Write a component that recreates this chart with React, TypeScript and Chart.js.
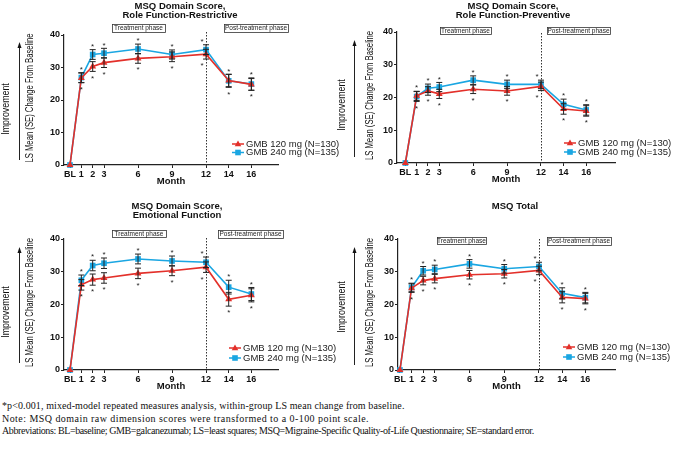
import React, { useEffect, useRef } from 'react';
import { Chart, registerables } from 'chart.js';
Chart.register(...registerables);

// ---------- data ----------
const months = [0, 1, 2, 3, 6, 9, 12, 14, 16];
const seriesNames = ['GMB 120 mg (N=130)', 'GMB 240 mg (N=135)'];
const yAxisTitle = 'LS Mean (SE) Change From Baseline';
const xAxisTitle = 'Month';
const improvementLabel = 'Improvement';
const phaseLabels = ['Treatment phase', 'Post-treatment phase'];

const rfrTitle = ['MSQ Domain Score,', 'Role Function-Restrictive'];
const rfr120 = [0, 26.8, 30.3, 31.5, 32.8, 33.3, 34.1, 26.0, 24.8];
const rfr120SE = [0, 1.5, 1.5, 1.5, 1.5, 1.5, 1.5, 1.9, 1.8];
const rfr240 = [0, 26.9, 34.0, 34.4, 35.7, 34.0, 35.5, 25.9, 24.9];
const rfr240SE = [0, 1.5, 1.5, 1.5, 1.5, 1.4, 1.5, 2.0, 1.9];

const rfpTitle = ['MSQ Domain Score,', 'Role Function-Preventive'];
const rfp120 = [0, 20.5, 22.0, 21.1, 22.5, 22.0, 23.4, 16.5, 15.9];
const rfp120SE = [0, 1.4, 1.3, 1.4, 1.3, 1.3, 1.3, 1.6, 1.6];
const rfp240 = [0, 20.3, 22.8, 23.2, 25.3, 24.0, 24.0, 17.9, 16.2];
const rfp240SE = [0, 1.5, 1.3, 1.4, 1.3, 1.3, 1.3, 1.6, 1.6];

const efTitle = ['MSQ Domain Score,', 'Emotional Function'];
const ef120 = [0, 26.0, 27.6, 28.1, 29.5, 30.3, 31.4, 21.6, 22.8];
const ef120SE = [0, 1.6, 1.7, 1.6, 1.6, 1.5, 1.6, 2.1, 2.0];
const ef240 = [0, 27.4, 31.9, 32.6, 33.9, 33.3, 32.9, 25.3, 23.2];
const ef240SE = [0, 1.6, 1.6, 1.6, 1.5, 1.5, 1.6, 2.1, 2.0];

const totTitle = ['MSQ Total'];
const tot120 = [0, 25.0, 27.3, 27.9, 29.1, 29.4, 30.4, 22.2, 21.8];
const tot120SE = [0, 1.3, 1.3, 1.3, 1.3, 1.3, 1.3, 1.7, 1.6];
const tot240 = [0, 25.2, 30.3, 30.7, 32.4, 30.9, 31.6, 23.4, 22.1];
const tot240SE = [0, 1.3, 1.3, 1.3, 1.3, 1.3, 1.3, 1.7, 1.6];

const footnotes = [
  '*p<0.001, mixed-model repeated measures analysis, within-group LS mean change from baseline.',
  'Note: MSQ domain raw dimension scores were transformed to a 0-100 point scale.',
  'Abbreviations: BL=baseline; GMB=galcanezumab; LS=least squares; MSQ=Migraine-Specific Quality-of-Life Questionnaire; SE=standard error.',
];

// ---------- styling / layout ----------
const RED = '#e3302a';
const BLUE = '#1aa6e2';
const SANS = "'Liberation Sans', Arial, sans-serif";

type Panel = {
  title: string[];
  red: number[]; redSE: number[]; blue: number[]; blueSE: number[];
  box: number[]; area: number[]; xRange: number[];
  monthY: number; yTitleX: number;
  titleX: number; titleY: number[];
  tBox: number[]; pBox: number[];
  arrowX: number; arrowTop: number; arrowBottom: number;
  imprX: number; imprY: number;
  legX: number; legY: number; legDy: number;
  dashTop: number;
};

const panels: Panel[] = [
  {
    title: rfrTitle, red: rfr120, redSE: rfr120SE, blue: rfr240, blueSE: rfr240SE,
    box: [0, 0, 360, 200], area: [64, 35, 278, 165], xRange: [-0.53, 18.35],
    monthY: 181, yTitleX: 30.5, titleX: 180, titleY: [6, 15],
    tBox: [112, 24, 165, 32], pBox: [224, 24, 288, 32],
    arrowX: 19, arrowTop: 42, arrowBottom: 160, imprX: 6, imprY: 109,
    legX: 238, legY: 144, legDy: 8.5, dashTop: 32,
  },
  {
    title: rfpTitle, red: rfp120, redSE: rfp120SE, blue: rfp240, blueSE: rfp240SE,
    box: [336, 0, 341, 200], area: [397, 32, 615, 163], xRange: [-0.74, 18.55],
    monthY: 179, yTitleX: 370, titleX: 513, titleY: [6, 15],
    tBox: [440, 27, 491, 34], pBox: [547, 27, 610, 34],
    arrowX: 354, arrowTop: 40, arrowBottom: 157, imprX: 342, imprY: 105,
    legX: 570, legY: 143, legDy: 9, dashTop: 33,
  },
  {
    title: efTitle, red: ef120, redSE: ef120SE, blue: ef240, blueSE: ef240SE,
    box: [0, 200, 360, 195], area: [64, 239, 278, 370], xRange: [-0.53, 18.35],
    monthY: 386, yTitleX: 30.5, titleX: 177, titleY: [206, 215],
    tBox: [112, 230, 166, 237], pBox: [218, 230, 283, 238],
    arrowX: 19, arrowTop: 247, arrowBottom: 363, imprX: 6, imprY: 312,
    legX: 235, legY: 348, legDy: 10, dashTop: 238,
  },
  {
    title: totTitle, red: tot120, redSE: tot120SE, blue: tot240, blueSE: tot240SE,
    box: [336, 200, 341, 195], area: [398, 239, 615, 370], xRange: [-0.17, 18.56],
    monthY: 386, yTitleX: 370, titleX: 515, titleY: [206],
    tBox: [437, 237, 486, 244], pBox: [547, 237, 611, 245],
    arrowX: 354, arrowTop: 247, arrowBottom: 365, imprX: 342, imprY: 307,
    legX: 569, legY: 347, legDy: 10, dashTop: 239,
  },
];

function drawMarker(ctx: CanvasRenderingContext2D, kind: string, x: number, y: number, color: string) {
  ctx.fillStyle = color;
  ctx.beginPath();
  if (kind === 'triangle') {
    ctx.moveTo(x, y - 3.6);
    ctx.lineTo(x + 3.3, y + 2.2);
    ctx.lineTo(x - 3.3, y + 2.2);
    ctx.closePath();
  } else {
    ctx.rect(x - 2.8, y - 2.8, 5.6, 5.6);
  }
  ctx.fill();
}

function drawCondensedVertical(ctx: CanvasRenderingContext2D, text: string, x: number, y: number, size: number, squeeze: number) {
  ctx.save();
  ctx.translate(x, y);
  ctx.rotate(-Math.PI / 2);
  ctx.scale(squeeze, 1);
  ctx.font = `${size}px ${SANS}`;
  ctx.fillStyle = '#111';
  ctx.textAlign = 'center';
  ctx.textBaseline = 'middle';
  ctx.fillText(text, 0, 0);
  ctx.restore();
}

function makePlugin(p: Panel) {
  const ox = p.box[0];
  const oy = p.box[1];
  return {
    id: 'panelDecor',
    beforeDatasetsDraw(chart: any) {
      const ctx = chart.ctx as CanvasRenderingContext2D;
      const xs = chart.scales.x;
      const px = Math.round(xs.getPixelForValue(12)) + 0.5;
      ctx.save();
      ctx.strokeStyle = '#333';
      ctx.lineWidth = 1;
      ctx.setLineDash([1.5, 1.5]);
      ctx.beginPath();
      ctx.moveTo(px, p.dashTop - oy);
      ctx.lineTo(px, chart.chartArea.bottom);
      ctx.stroke();
      ctx.restore();
    },
    afterDatasetsDraw(chart: any) {
      const ctx = chart.ctx as CanvasRenderingContext2D;
      const xs = chart.scales.x;
      const ys = chart.scales.y;
      ctx.save();
      ctx.strokeStyle = '#222';
      ctx.lineWidth = 1;
      const series = [[p.red, p.redSE], [p.blue, p.blueSE]];
      for (let j = 1; j < months.length; j++) {
        const x = xs.getPixelForValue(months[j]);
        let topMost = Infinity;
        let botMost = -Infinity;
        for (const [vals, se] of series) {
          const yt = ys.getPixelForValue(vals[j] + se[j]);
          const yb = ys.getPixelForValue(vals[j] - se[j]);
          topMost = Math.min(topMost, yt);
          botMost = Math.max(botMost, yb);
          ctx.beginPath();
          ctx.moveTo(x, yt); ctx.lineTo(x, yb);
          ctx.moveTo(x - 3, yt); ctx.lineTo(x + 3, yt);
          ctx.moveTo(x - 3, yb); ctx.lineTo(x + 3, yb);
          ctx.stroke();
        }
        const ax = months[j] === 12 ? x - 4 : x;
        ctx.fillStyle = '#222';
        ctx.font = `8px ${SANS}`;
        ctx.textAlign = 'center';
        ctx.textBaseline = 'middle';
        ctx.fillText('*', ax, topMost - 3);
        ctx.fillText('*', ax, botMost + 7);
      }
      ctx.restore();
    },
    afterDraw(chart: any) {
      const ctx = chart.ctx as CanvasRenderingContext2D;
      const ca = chart.chartArea;
      ctx.save();
      // titles
      ctx.fillStyle = '#111';
      ctx.font = `bold 9.5px ${SANS}`;
      ctx.textAlign = 'center';
      ctx.textBaseline = 'middle';
      p.title.forEach((t, i) => ctx.fillText(t, p.titleX - ox, p.titleY[i] - oy));
      // phase boxes
      ctx.font = `6.5px ${SANS}`;
      ctx.lineWidth = 0.8;
      ctx.strokeStyle = '#333';
      [p.tBox, p.pBox].forEach((b, i) => {
        ctx.strokeRect(b[0] - ox + 0.5, b[1] - oy + 0.5, b[2] - b[0], b[3] - b[1]);
        ctx.fillStyle = '#222';
        ctx.fillText(phaseLabels[i], (b[0] + b[2]) / 2 - ox, (b[1] + b[3]) / 2 - oy + 0.5);
      });
      // y axis title (condensed)
      drawCondensedVertical(ctx, yAxisTitle, p.yTitleX - ox, (ca.top + ca.bottom) / 2 - 2, 10, 0.77);
      // improvement arrow
      const ax = p.arrowX - ox + 0.5;
      ctx.strokeStyle = '#222';
      ctx.lineWidth = 1;
      ctx.beginPath();
      ctx.moveTo(ax, p.arrowBottom - oy);
      ctx.lineTo(ax, p.arrowTop - oy + 4);
      ctx.stroke();
      ctx.fillStyle = '#111';
      ctx.beginPath();
      ctx.moveTo(ax, p.arrowTop - oy);
      ctx.lineTo(ax - 2, p.arrowTop - oy + 6);
      ctx.lineTo(ax + 2, p.arrowTop - oy + 6);
      ctx.closePath();
      ctx.fill();
      drawCondensedVertical(ctx, improvementLabel, p.imprX - ox, p.imprY - oy, 10.5, 0.84);
      // legend
      const cols = [RED, BLUE];
      const kinds = ['triangle', 'rect'];
      seriesNames.forEach((name, i) => {
        const lx = p.legX - ox;
        const ly = p.legY - oy + i * p.legDy;
        ctx.strokeStyle = cols[i];
        ctx.lineWidth = 1.5;
        ctx.beginPath();
        ctx.moveTo(lx - 6, ly); ctx.lineTo(lx + 6, ly);
        ctx.stroke();
        drawMarker(ctx, kinds[i], lx, ly, cols[i]);
        ctx.fillStyle = '#222';
        ctx.font = `9.5px ${SANS}`;
        ctx.textAlign = 'left';
        ctx.textBaseline = 'middle';
        ctx.fillText(name, lx + 8, ly);
      });
      ctx.restore();
    },
  };
}

function PanelChart({ p }: { p: Panel }) {
  const ref = useRef<HTMLCanvasElement>(null);
  const [cx, cy, cw, ch] = p.box;
  useEffect(() => {
    const [l, t, r, b] = p.area;
    const padLeft = 20;
    const yWidth = l - cx - padLeft;
    const xBottom = p.monthY + 5.7;
    const xHeight = xBottom - b;
    const tickFont = { family: SANS, size: 9, weight: 'bold' as const, lineHeight: 1.0 };
    const chart = new Chart(ref.current!, {
      type: 'line',
      data: {
        datasets: [
          {
            label: seriesNames[0],
            data: months.map((m, i) => ({ x: m, y: p.red[i] })),
            borderColor: RED, backgroundColor: RED, borderWidth: 1.6,
            pointStyle: 'triangle', pointRadius: 4, pointBorderWidth: 0,
            clip: false as any,
          },
          {
            label: seriesNames[1],
            data: months.map((m, i) => ({ x: m, y: p.blue[i] })),
            borderColor: BLUE, backgroundColor: BLUE, borderWidth: 1.6,
            pointStyle: 'rect', pointRadius: 4, pointBorderWidth: 0,
            clip: false as any,
          },
        ],
      },
      options: {
        responsive: false,
        animation: false,
        layout: { padding: { left: padLeft, top: t - cy, right: cx + cw - r, bottom: cy + ch - xBottom } },
        plugins: { legend: { display: false }, tooltip: { enabled: false }, title: { display: false } },
        scales: {
          x: {
            type: 'linear',
            min: p.xRange[0], max: p.xRange[1],
            afterBuildTicks: (s: any) => { s.ticks = months.map((v) => ({ value: v })); },
            afterFit: (s: any) => { s.height = xHeight; },
            grid: { display: true, drawOnChartArea: false, drawTicks: true, tickLength: 3, color: '#222' },
            border: { display: true, color: '#222', width: 1.2 },
            ticks: {
              autoSkip: false, maxRotation: 0, padding: 2, color: '#111', font: tickFont,
              callback: (v: any) => (v === 0 ? 'BL' : String(v)),
            },
            title: { display: true, text: xAxisTitle, color: '#111', padding: 0, font: { family: SANS, size: 9.5, weight: 'bold' } },
          },
          y: {
            min: 0, max: 40,
            afterFit: (s: any) => { s.width = yWidth; },
            grid: { display: true, drawOnChartArea: false, drawTicks: true, tickLength: 3, color: '#222' },
            border: { display: true, color: '#222', width: 1.2 },
            ticks: { stepSize: 10, padding: 1, color: '#111', font: tickFont },
            title: { display: false, text: yAxisTitle },
          },
        },
      },
      plugins: [makePlugin(p)],
    } as any);
    return () => chart.destroy();
  }, [p]);
  return (
    <canvas
      ref={ref}
      width={cw}
      height={ch}
      style={{ position: 'absolute', left: cx, top: cy, width: cw, height: ch, display: 'block' }}
    />
  );
}

const footSpacing = [0.1, 0.45, -0.4];

export default function App() {
  return (
    <div style={{ position: 'fixed', left: 0, top: 0, width: 677, height: 455, background: '#fff', overflow: 'hidden' }}>
      {panels.map((p, i) => (
        <PanelChart key={i} p={p} />
      ))}
      <div
        style={{
          position: 'absolute', left: 2, top: 400, width: 675,
          fontFamily: "'Liberation Serif', 'Times New Roman', serif", fontSize: 10, lineHeight: '12.5px',
          color: '#111', whiteSpace: 'nowrap',
        }}
      >
        {footnotes.map((f, i) => (
          <div key={i} style={{ letterSpacing: footSpacing[i] }}>{f}</div>
        ))}
      </div>
    </div>
  );
}
